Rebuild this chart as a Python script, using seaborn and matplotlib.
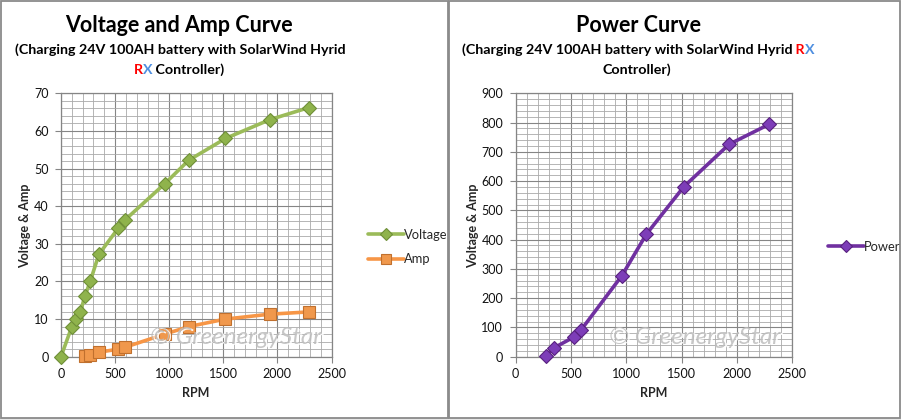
import numpy as np
import pandas as pd
import matplotlib
matplotlib.use("Agg")
import matplotlib.pyplot as plt
from matplotlib.ticker import MultipleLocator
from matplotlib.patches import Rectangle
import seaborn as sns

# ---------------- data ----------------
rpm_voltage = [0, 100, 140, 180, 220, 270, 350, 530, 590, 960, 1180, 1520, 1930, 2290]
voltage = [0, 8, 10, 12, 16, 20, 27.2, 34.2, 36.3, 46, 52.2, 58, 63, 66.2]
rpm_amp = [220, 270, 350, 530, 590, 960, 1180, 1520, 1930, 2290]
amp = [0.2, 0.4, 1.2, 2.0, 2.5, 6.0, 8.0, 10.0, 11.3, 11.9]
rpm_power = [270, 350, 530, 590, 960, 1180, 1520, 1930, 2290]
power = [3, 31, 68, 91, 277, 418, 581, 726, 794]

x_ticks = [0, 500, 1000, 1500, 2000, 2500]
left_title = "Voltage and Amp Curve"
right_title = "Power Curve"
xlabel = "RPM"
ylabel = "Voltage & Amp"
watermark = "\u00a9 GreenergyStar"

sns.set_theme(style="white")
plt.rcParams['font.family'] = ['Lato', 'DejaVu Sans']

W, H = 901, 420
fig = plt.figure(figsize=(W / 100, H / 100), dpi=100)
fig.patch.set_facecolor('white')

def fx(px):
    return px / W

def fy(py):
    return 1 - py / H

# panel frames
fig.add_artist(Rectangle((0, 0), 1, fy(418), transform=fig.transFigure,
                         facecolor='#e6e6e6', edgecolor='none', zorder=-3))
for (x0, x1) in [(0.5, 447.5), (448.5, 899.5)]:
    fig.add_artist(Rectangle((fx(x0), fy(417.5)), fx(x1) - fx(x0), fy(0.5) - fy(417.5),
                             transform=fig.transFigure, facecolor='white',
                             edgecolor='#8a8a8a', lw=1.3, zorder=-2))

GRID_MAJ = '#858585'
GRID_MIN = '#aaaaaa'

def style_axes(ax, ymax, ymajor, yminor):
    ax.set_xlim(0, 2500)
    ax.set_ylim(0, ymax)
    ax.set_xticks(x_ticks)
    ax.xaxis.set_minor_locator(MultipleLocator(100))
    ax.yaxis.set_major_locator(MultipleLocator(ymajor))
    ax.yaxis.set_minor_locator(MultipleLocator(yminor))
    ax.grid(which='major', color=GRID_MAJ, lw=0.8)
    ax.grid(which='minor', color=GRID_MIN, lw=0.6)
    ax.set_axisbelow(True)
    for s in ax.spines.values():
        s.set_color(GRID_MAJ)
        s.set_linewidth(0.9)
    ax.tick_params(which='major', direction='out', length=4, width=0.8,
                   color=GRID_MAJ, labelsize=9, labelcolor='#111111', pad=4,
                   left=True, bottom=True)
    ax.tick_params(axis='y', pad=5)
    ax.tick_params(which='minor', length=0)
    ax.set_xlabel(xlabel, fontsize=9, fontweight='bold')
    ax.set_ylabel(ylabel, fontsize=9, fontweight='bold')
    ax.set_facecolor('white')

LW = 2.6

# ---------------- left chart ----------------
axL = fig.add_axes([fx(61), fy(356.7), fx(331.5) - fx(61), fy(93.3) - fy(356.7)])
dfV = pd.DataFrame({'rpm': rpm_voltage, 'val': voltage})
dfA = pd.DataFrame({'rpm': rpm_amp, 'val': amp})
sns.lineplot(data=dfV, x='rpm', y='val', ax=axL, color='#9BBB59', lw=LW,
             marker='D', markersize=7.2, markerfacecolor='#8fb34c',
             markeredgecolor='#6f8f38', markeredgewidth=0.8, label='Voltage',
             sort=False, zorder=3, clip_on=False)
sns.lineplot(data=dfA, x='rpm', y='val', ax=axL, color='#F79646', lw=LW,
             marker='s', markersize=9, markerfacecolor='#f0984c',
             markeredgecolor='#c0702e', markeredgewidth=0.8, label='Amp',
             sort=False, zorder=3, clip_on=False)
style_axes(axL, 70, 10, 2)
axL.legend(loc='center left', frameon=False, fontsize=9.3, handlelength=2.8,
           handletextpad=0.0, labelspacing=0.95, markerscale=0.8)
axL.get_legend().set_bbox_to_anchor((fx(356), fy(247)), transform=fig.transFigure)

# ---------------- right chart ----------------
axR = fig.add_axes([fx(515.7), fy(356.7), fx(792.3) - fx(515.7), fy(93.3) - fy(356.7)])
dfP = pd.DataFrame({'rpm': rpm_power, 'val': power})
sns.lineplot(data=dfP, x='rpm', y='val', ax=axR, color='#7030A0', lw=LW,
             marker='D', markersize=7.2, markerfacecolor='#7d3db8',
             markeredgecolor='#58207f', markeredgewidth=0.8, label='Power',
             sort=False, zorder=3, clip_on=False)
style_axes(axR, 900, 100, 20)
axR.legend(loc='center left', frameon=False, fontsize=9.3, handlelength=2.8,
           handletextpad=0.0, markerscale=0.8)
axR.get_legend().set_bbox_to_anchor((fx(816), fy(247)), transform=fig.transFigure)

# axis label positions
axL.yaxis.set_label_coords(fx(25), fy(226), transform=fig.transFigure)
axR.yaxis.set_label_coords(fx(473), fy(226), transform=fig.transFigure)
axL.xaxis.set_label_coords(fx(196), fy(393), transform=fig.transFigure)
axR.xaxis.set_label_coords(fx(654), fy(393), transform=fig.transFigure)
for lab in [axL.xaxis.label, axR.xaxis.label, axL.yaxis.label, axR.yaxis.label]:
    lab.set_va('center')
    lab.set_ha('center')

# watermarks
for cx in [236, 695]:
    fig.text(fx(cx) + 0.0015, fy(337) - 0.003, watermark, fontsize=17.5, style='italic',
             color='#ffffff', ha='center', va='center', zorder=4, alpha=0.9)
    fig.text(fx(cx), fy(337), watermark, fontsize=17.5, style='italic',
             color='#bdbdbd', ha='center', va='center', zorder=5, alpha=0.85)

# titles
fig.text(fx(179), fy(25), left_title, fontsize=15.5, fontweight='bold',
         ha='center', va='center', color='black')
fig.text(fx(638), fy(25), right_title, fontsize=15.5, fontweight='bold',
         ha='center', va='center', color='black')

renderer = fig.canvas.get_renderer()

def colored_line(cx_px, cy_px, parts, size=10.3):
    texts = []
    for s, c in parts:
        t = fig.text(0, fy(cy_px), s, fontsize=size, fontweight='bold', color=c,
                     ha='left', va='center')
        texts.append(t)
    widths = [t.get_window_extent(renderer).width for t in texts]
    total = sum(widths)
    x = cx_px - total / 2
    for t, w in zip(texts, widths):
        t.set_x(fx(x))
        x += w

RED = '#ff0000'
BLUE = '#4f8fe0'
colored_line(180, 50, [("(Charging 24V 100AH battery with SolarWind Hyrid", 'black')])
colored_line(179, 70, [("R", RED), ("X", BLUE), (" Controller)", 'black')])
colored_line(638, 50, [("(Charging 24V 100AH battery with SolarWind Hyrid", 'black'),
                       (" R", RED), ("X", BLUE)])
colored_line(637, 70, [("Controller)", 'black')])

fig.savefig("out.png", dpi=100, facecolor='white')
